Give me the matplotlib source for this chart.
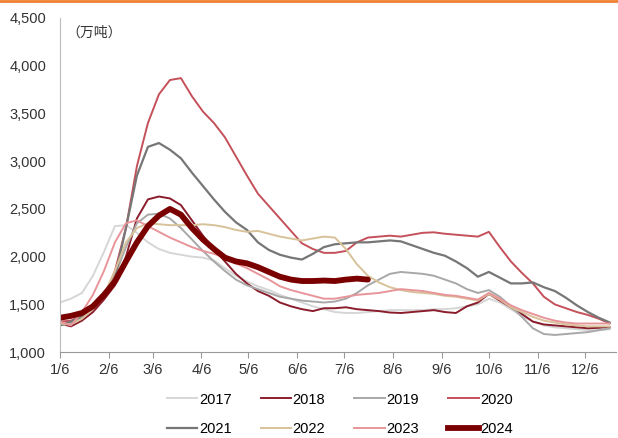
import numpy as np
import matplotlib
matplotlib.use("Agg")
import matplotlib.pyplot as plt
from matplotlib.lines import Line2D

plt.rcParams['font.family'] = ['Liberation Sans Narrow', 'Liberation Sans', 'Noto Sans CJK SC', 'DejaVu Sans']

# weekly data, week 0 = 1/6
v2017 = [1520, 1560, 1620, 1800, 2050, 2320, 2330, 2250, 2150, 2080, 2040, 2020, 2000, 1990, 1960, 1880,
         1800, 1740, 1690, 1650, 1600, 1560, 1520, 1480, 1450, 1420, 1410, 1410, 1420, 1430, 1440, 1440,
         1440, 1440, 1450, 1450, 1460, 1480, 1500, 1560, 1520, 1450, 1380, 1320, 1280, 1260, 1250, 1240,
         1230, 1230, 1240]
v2018 = [1300, 1270, 1330, 1420, 1550, 1700, 2000, 2400, 2600, 2630, 2610, 2540, 2380, 2220, 2080, 1950,
         1820, 1720, 1640, 1590, 1520, 1480, 1450, 1430, 1460, 1460, 1470, 1450, 1440, 1430, 1415, 1410,
         1420, 1430, 1440, 1420, 1410, 1480, 1520, 1610, 1540, 1470, 1400, 1320, 1290, 1280, 1270, 1260,
         1250, 1255, 1265]
v2019 = [1280, 1300, 1360, 1450, 1580, 1800, 2100, 2350, 2440, 2450, 2400, 2300, 2180, 2060, 1950, 1850,
         1760, 1700, 1660, 1620, 1580, 1560, 1540, 1530, 1520, 1530, 1560, 1620, 1700, 1760, 1820, 1840,
         1830, 1820, 1800, 1760, 1720, 1660, 1620, 1650, 1580, 1480, 1370, 1250, 1190, 1180, 1190, 1200,
         1210, 1230, 1250]
v2020 = [1320, 1330, 1380, 1450, 1580, 1850, 2300, 2950, 3400, 3700, 3850, 3870, 3680, 3520, 3400, 3250,
         3050, 2850, 2660, 2530, 2400, 2270, 2140, 2080, 2040, 2040, 2060, 2150, 2200, 2210, 2220, 2210,
         2230, 2250, 2255, 2240, 2230, 2220, 2210, 2260, 2100, 1950, 1830, 1720, 1580, 1500, 1460, 1420,
         1390, 1350, 1300]
v2021 = [1280, 1320, 1380, 1480, 1600, 1780, 2300, 2850, 3150, 3190, 3120, 3030, 2880, 2740, 2600, 2470,
         2360, 2280, 2150, 2070, 2020, 1990, 1970, 2030, 2100, 2130, 2140, 2150, 2150, 2160, 2170, 2160,
         2120, 2080, 2040, 2010, 1950, 1880, 1790, 1840, 1780, 1720, 1720, 1730, 1680, 1640, 1570, 1490,
         1420, 1360, 1310]
v2022 = [1300, 1290, 1350, 1450, 1600, 1850, 2150, 2300, 2350, 2340, 2330, 2330, 2330, 2340, 2330, 2310,
         2280, 2260, 2270, 2240, 2210, 2190, 2170, 2190, 2210, 2200, 2080, 1920, 1800, 1730, 1680, 1650,
         1630, 1620, 1610, 1590, 1580, 1560, 1540, 1610, 1550, 1470, 1420, 1370, 1330, 1310, 1290, 1280,
         1270, 1270, 1270]
v2023 = [1320, 1280, 1420, 1600, 1850, 2150, 2350, 2380, 2320, 2260, 2200, 2150, 2100, 2060, 2030, 1990,
         1930, 1880, 1820, 1760, 1690, 1650, 1620, 1590, 1560, 1560, 1580, 1600, 1610, 1620, 1640, 1660,
         1650, 1640, 1620, 1600, 1590, 1570, 1550, 1620, 1560, 1490, 1440, 1400, 1360, 1330, 1310, 1300,
         1300, 1300, 1300]
v2024 = [1360, 1380, 1410, 1480, 1600, 1740, 1950, 2150, 2320, 2430, 2500, 2440, 2300, 2180, 2080, 1990,
         1950, 1930, 1890, 1840, 1790, 1760, 1745, 1745, 1750, 1745, 1760, 1770, 1760]

years = ['2017', '2018', '2019', '2020', '2021', '2022', '2023', '2024']
series = [v2017, v2018, v2019, v2020, v2021, v2022, v2023, v2024]
colors = ['#d6d6d6', '#8b1c2c', '#a8a8a8', '#c4505a', '#767676', '#d8c29a', '#e8959a', '#7a0000']
widths = [1.4, 1.4, 1.4, 1.4, 1.6, 1.4, 1.4, 4.2]

tick_labels = ['%d/6' % m for m in range(1, 13)]
month_start = [0, 31, 59, 90, 120, 151, 181, 212, 243, 273, 304, 334]
tick_pos = [d + 5 for d in month_start]

fig = plt.figure(figsize=(6.18, 4.38), dpi=100)
ax = fig.add_axes([0.097, 0.196, 0.9, 0.763])

for yr, vals, c, lw in zip(years, series, colors, widths):
    x = 5 + 7 * np.arange(len(vals))
    ax.plot(x, vals, color=c, lw=lw, label=yr, solid_capstyle='round')

ax.set_xlim(5, 359)
ax.set_ylim(1000, 4500)
ax.set_yticks(range(1000, 4501, 500))
ax.set_yticklabels(['{:,}'.format(v) for v in range(1000, 4501, 500)], fontsize=10.5, color='#333333')
ax.set_xticks(tick_pos)
ax.set_xticklabels(tick_labels, fontsize=10.5, color='#333333')
ax.tick_params(axis='y', length=0, pad=10)
ax.tick_params(axis='x', length=4, color='#999999', pad=4)
for s in ['top', 'right']:
    ax.spines[s].set_visible(False)
ax.spines['left'].set_color('#bbbbbb')
ax.spines['bottom'].set_color('#999999')

ax.text(0.012, 0.955, '（万吨）', transform=ax.transAxes, fontsize=10,
        family=['Noto Sans CJK SC', 'DejaVu Sans'], color='#333333', va='center')

# legend filled row by row (2017-2020 on top, 2021-2024 below)
handles = [Line2D([0], [0], color=c, lw=lw) for c, lw in zip(colors, widths)]
order = [0, 4, 1, 5, 2, 6, 3, 7]
fig.legend([handles[i] for i in order], [years[i] for i in order], loc='lower center',
           bbox_to_anchor=(0.55, -0.025), ncol=4, frameon=False, fontsize=10.5,
           handlelength=2.1, handletextpad=0.1, columnspacing=2.0, labelspacing=1.05)

# orange rule at the top
fig.add_artist(Line2D([0, 1], [0.997, 0.997], transform=fig.transFigure, color='#f08030', lw=2))

fig.savefig('out.png', dpi=100)
